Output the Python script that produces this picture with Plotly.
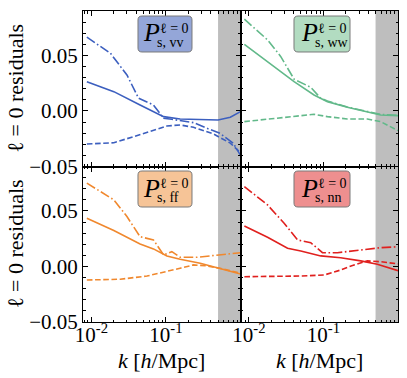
import numpy as np
import plotly.graph_objects as go
from plotly.subplots import make_subplots

# ---------------- data ----------------
# P_s,vv  (blue, top-left)
k_vv_solid = [0.0087, 0.02, 0.045, 0.093, 0.155, 0.26, 0.5, 0.73, 1.0]
r_vv_solid = [0.0264, 0.0174, 0.0054, -0.0051, -0.0072, -0.0075, -0.0081, -0.0057, -0.0006]
k_vv_dashdot = [0.0087, 0.018, 0.03, 0.043, 0.068, 0.093, 0.12, 0.155, 0.234, 0.354, 0.53, 0.8, 0.97, 1.0]
r_vv_dashdot = [0.0664, 0.052, 0.0324, 0.0114, 0.0054, -0.0066, -0.0075, -0.0085, -0.0105, -0.0156, -0.0201, -0.029, -0.038, -0.040]
k_vv_dashed = [0.0087, 0.02, 0.037, 0.068, 0.103, 0.155, 0.234, 0.434, 0.73, 0.97]
r_vv_dashed = [-0.0297, -0.0286, -0.0231, -0.0171, -0.0135, -0.0126, -0.0147, -0.0207, -0.029, -0.0367]

# P_s,ww  (green, top-right)
k_ww_solid = [0.0087, 0.0178, 0.0404, 0.0748, 0.113, 0.209, 0.388, 0.585, 1.0]
r_ww_solid = [0.060, 0.0444, 0.0264, 0.0144, 0.0084, 0.0033, -0.0006, -0.0036, -0.0042]
k_ww_dashdot = [0.0087, 0.0178, 0.0268, 0.0404, 0.0676, 0.092, 0.113, 0.209, 0.388, 0.585, 1.0]
r_ww_dashdot = [0.0826, 0.064, 0.0489, 0.0286, 0.0213, 0.0114, 0.0090, 0.0035, -0.0004, -0.0030, -0.0040]
k_ww_dashed = [0.0087, 0.0218, 0.0404, 0.0748, 0.113, 0.209, 0.388, 0.585, 1.0]
r_ww_dashed = [-0.0096, -0.0066, -0.0045, -0.003, -0.0051, -0.0072, -0.0072, -0.0096, -0.0177]

# P_s,ff  (orange, bottom-left)
k_ff_solid = [0.0087, 0.02, 0.045, 0.068, 0.103, 0.155, 0.288, 0.53, 1.0]
r_ff_solid = [0.0434, 0.0323, 0.0203, 0.0158, 0.0095, 0.0065, 0.0029, -0.0016, -0.0068]
k_ff_dashdot = [0.0087, 0.02, 0.03, 0.045, 0.068, 0.093, 0.12, 0.155, 0.26, 0.53, 1.0]
r_ff_dashdot = [0.075, 0.060, 0.0449, 0.0268, 0.0239, 0.0104, 0.0133, 0.0083, 0.0083, 0.0104, 0.0124]
k_ff_dashed = [0.0087, 0.0244, 0.0557, 0.103, 0.155, 0.234, 0.354, 0.53, 1.0]
r_ff_dashed = [-0.0122, -0.0115, -0.0086, -0.0047, -0.0016, 0.0014, 0.0005, -0.0016, -0.0061]

# P_s,nn  (red, bottom-right)
k_nn_solid = [0.0087, 0.0178, 0.033, 0.0497, 0.092, 0.17, 0.316, 0.528, 1.0]
r_nn_solid = [0.0365, 0.0263, 0.0164, 0.014, 0.0095, 0.0079, 0.005, 0.002, -0.0038]
k_nn_dashdot = [0.0087, 0.0178, 0.0297, 0.0449, 0.0676, 0.097, 0.154, 0.316, 0.585, 1.0]
r_nn_dashdot = [0.0719, 0.0554, 0.0389, 0.0239, 0.0214, 0.0124, 0.0124, 0.0149, 0.0169, 0.0178]
k_nn_dashed = [0.0087, 0.0218, 0.0497, 0.102, 0.17, 0.257, 0.388, 0.585, 1.0]
r_nn_dashed = [-0.0092, -0.0092, -0.0086, -0.0077, -0.0032, 0.0014, 0.005, 0.0043, 0.0023]

panel_labels = ["vv", "ww", "ff", "nn"]
panel_colors = ["#3c5fbf", "#62b98a", "#f0882e", "#e0201e"]
box_colors = ["#94a6d8", "#b2dcc1", "#f6c497", "#ee8f8f"]
shade_range = [0.5, 1.0]
y_range = [-0.05, 0.09]
ytick_vals = [-0.05, 0.0, 0.05]
ytick_text = ["\u22120.05", "0.00", "0.05"]
xtick_vals = [0.01, 0.1]
xtick_text = ["10<sup>-2</sup>", "10<sup>-1</sup>"]
y_title = "\u2113 = 0 residuals"
x_title = "<i>k</i> [<i>h</i>/Mpc]"

curves = {
    "vv": [(k_vv_solid, r_vv_solid), (k_vv_dashdot, r_vv_dashdot), (k_vv_dashed, r_vv_dashed)],
    "ww": [(k_ww_solid, r_ww_solid), (k_ww_dashdot, r_ww_dashdot), (k_ww_dashed, r_ww_dashed)],
    "ff": [(k_ff_solid, r_ff_solid), (k_ff_dashdot, r_ff_dashdot), (k_ff_dashed, r_ff_dashed)],
    "nn": [(k_nn_solid, r_nn_solid), (k_nn_dashdot, r_nn_dashdot), (k_nn_dashed, r_nn_dashed)],
}
dashes = ["solid", "9.6px,2.6px,1.6px,2.6px", "5.6px,2.6px"]

# ---------------- figure ----------------
W, H = 407, 378
ML, MR, MT, MB = 83, 9, 11, 56
PW, PH = W - ML - MR, H - MT - MB
FONT = "Liberation Serif"

fig = make_subplots(rows=2, cols=2, horizontal_spacing=0, vertical_spacing=0)
positions = [(1, 1), (1, 2), (2, 1), (2, 2)]

for lab, col, (r, c) in zip(panel_labels, panel_colors, positions):
    # grey shaded k-range (drawn first, beneath the curves)
    fig.add_trace(go.Scatter(x=[shade_range[0], shade_range[1], shade_range[1], shade_range[0]],
                             y=[y_range[0], y_range[0], y_range[1], y_range[1]],
                             mode="lines", fill="toself", fillcolor="#bebebe",
                             line=dict(width=0, color="#bebebe"), hoverinfo="skip",
                             showlegend=False), row=r, col=c)
    for (kk, vv), d in zip(curves[lab], dashes):
        fig.add_trace(go.Scatter(x=kk, y=vv, mode="lines", showlegend=False,
                                 line=dict(color=col, width=1.6, dash=d)), row=r, col=c)

minor_vals = []
for dec in [0.001, 0.01, 0.1]:
    for m in range(2, 10):
        minor_vals.append(m * dec)

xrange = [np.log10(0.00772), 0.0]
for i, (r, c) in enumerate(positions):
    idx = "" if i == 0 else str(i + 1)
    xa = dict(type="log", range=xrange, showline=True, linecolor="black", linewidth=1,
              mirror="allticks", ticks="inside", ticklen=5, tickwidth=1, tickcolor="black",
              tickvals=xtick_vals, ticktext=xtick_text, showgrid=False, zeroline=False,
              showticklabels=(r == 2), automargin=False, ticklabelstandoff=-6,
              tickfont=dict(family=FONT, size=21, color="black"),
              minor=dict(ticks="inside", ticklen=2.5, tickwidth=0.8, tickcolor="black",
                         tickvals=minor_vals, showgrid=False),
              domain=[0.0, 0.5] if c == 1 else [0.5, 1.0])
    ya = dict(range=y_range, showline=True, linecolor="black", linewidth=1,
              mirror="allticks", ticks="inside", ticklen=5, tickwidth=1, tickcolor="black",
              tickvals=ytick_vals, ticktext=ytick_text, showgrid=False, zeroline=False,
              showticklabels=(c == 1), automargin=False,
              tickfont=dict(family=FONT, size=21, color="black"),
              minor=dict(ticks="inside", ticklen=2.5, tickwidth=0.8, tickcolor="black",
                         dtick=0.01, tick0=0, showgrid=False),
              domain=[0.5, 1.0] if r == 1 else [0.0, 0.5])
    fig.layout["xaxis" + idx].update(xa)
    fig.layout["yaxis" + idx].update(ya)


def PX(px):
    return (px - ML) / PW


def PY(py):
    return (H - MB - py) / PH


def rrect(x0, y0, x1, y1, rad):
    def P(x, y):
        return f"{PX(x):.5f},{PY(y):.5f}"
    s = (f"M {P(x0 + rad, y0)} L {P(x1 - rad, y0)} Q {P(x1, y0)} {P(x1, y0 + rad)} "
         f"L {P(x1, y1 - rad)} Q {P(x1, y1)} {P(x1 - rad, y1)} "
         f"L {P(x0 + rad, y1)} Q {P(x0, y1)} {P(x0, y1 - rad)} "
         f"L {P(x0, y0 + rad)} Q {P(x0, y0)} {P(x0 + rad, y0)} Z")
    return s


# label boxes: (x0, y0, x1, y1, P center x)
boxes = [(138, 16, 192, 52, 151), (294, 16, 350, 52, 309),
         (138, 171, 192, 207, 151), (294, 171, 350, 207, 309)]
for lab, bc, (x0, y0, x1, y1, pc) in zip(panel_labels, box_colors, boxes):
    fig.add_shape(type="path", xref="paper", yref="paper", path=rrect(x0, y0, x1, y1, 4),
                  fillcolor=bc, line=dict(color="#7a7a7a", width=1), layer="above")
    fig.add_annotation(xref="paper", yref="paper", x=PX(pc), y=PY(y0 + 17), text="<i>P</i>",
                       showarrow=False, xanchor="center", yanchor="middle",
                       font=dict(family=FONT, size=26, color="black"))
    fig.add_annotation(xref="paper", yref="paper", x=PX(pc + 7.5), y=PY(y0 + 12.5),
                       text="\u2113 = 0", showarrow=False, xanchor="left", yanchor="middle",
                       borderpad=0, font=dict(family=FONT, size=14, color="black"))
    fig.add_annotation(xref="paper", yref="paper", x=PX(pc + 5), y=PY(y0 + 26.5),
                       text="s, " + lab, showarrow=False, xanchor="left", yanchor="middle",
                       borderpad=0, font=dict(family=FONT, size=14, color="black"))

# axis titles
for yc in [88.5, 244]:
    fig.add_annotation(xref="paper", yref="paper", x=PX(15), y=PY(yc), text=y_title,
                       textangle=-90, showarrow=False, xanchor="center", yanchor="middle",
                       font=dict(family=FONT, size=22, color="black"))
for xc in [161.5, 319]:
    fig.add_annotation(xref="paper", yref="paper", x=PX(xc), y=PY(360), text=x_title,
                       showarrow=False, xanchor="center", yanchor="middle",
                       font=dict(family=FONT, size=22, color="black"))

fig.update_layout(template="none", width=W, height=H,
                  margin=dict(l=ML, r=MR, t=MT, b=MB, pad=0),
                  paper_bgcolor="white", plot_bgcolor="white", showlegend=False,
                  font=dict(family=FONT, color="black"))

fig.write_html("out.html", config={"displayModeBar": False},
               post_script="document.body.style.margin='0px';")
